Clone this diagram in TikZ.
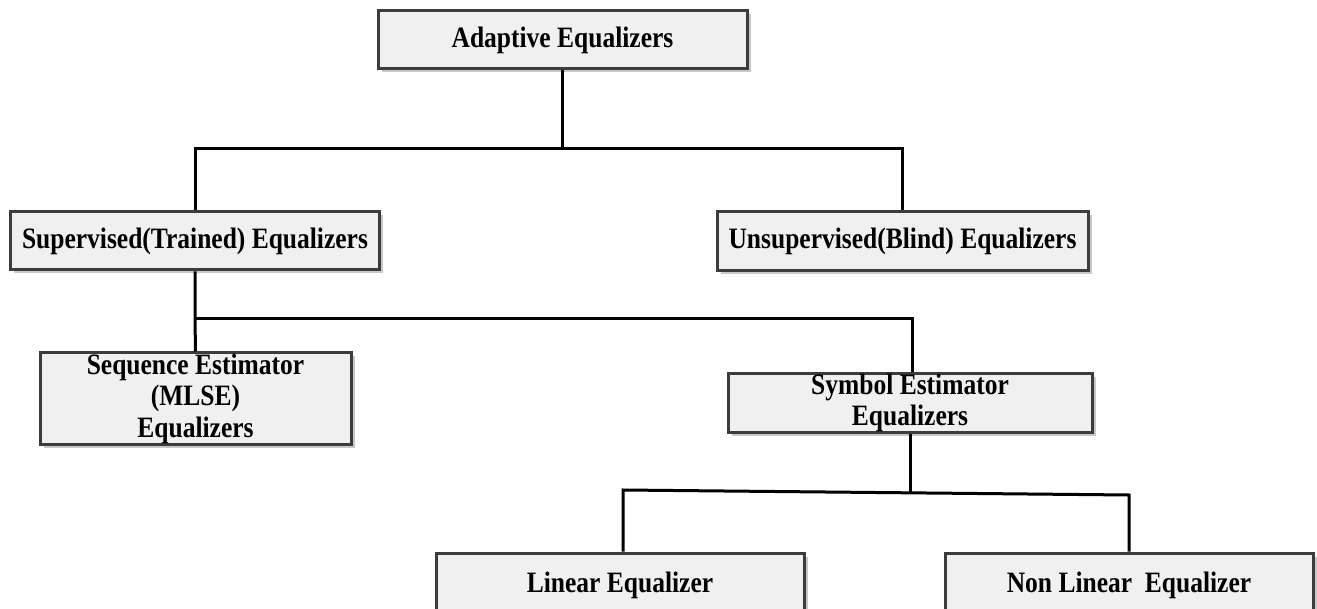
\documentclass[tikz,border=0pt]{standalone}
\usepackage{fontspec}
\usepackage{graphicx}
\setmainfont{Liberation Serif}
\usetikzlibrary{shadows}
\definecolor{boxfill}{HTML}{F0F0F0}
\definecolor{boxline}{HTML}{3C3C3C}
\definecolor{shade}{HTML}{C8C8C8}
% slightly tall lettering for the box labels
\newcommand\tallline[1]{\scalebox{1}[1.16]{#1}}
\begin{document}
\begin{tikzpicture}[x=1pt,y=-1pt,
  eqbox/.style={draw=boxline, line width=3pt, fill=boxfill,
    drop shadow={shadow xshift=3.5pt, shadow yshift=-3.5pt, fill=shade, opacity=1},
    inner sep=0pt, align=center,
    font=\fontsize{25.5}{31.5}\selectfont\bfseries},
  link/.style={draw=black, line width=3pt}]
\useasboundingbox (0,0) rectangle (1317,609);

% boxes
\node[eqbox, minimum width=369pt, minimum height=58pt] (ad)  at (562.5,40) {\tallline{Adaptive Equalizers}};
\node[eqbox, minimum width=369pt, minimum height=58pt] (sup) at (195,241) {\tallline{Supervised(Trained) Equalizers}};
\node[eqbox, minimum width=371pt, minimum height=59pt] (uns) at (902.5,241.5) {\tallline{Unsupervised(Blind) Equalizers}};
\node[eqbox, minimum width=311pt, minimum height=91pt] (seq) at (195.5,398.5) {\tallline{Sequence Estimator}\\\tallline{(MLSE)}\\\tallline{Equalizers}};
\node[eqbox, minimum width=364pt, minimum height=58pt] (sym) at (910,403) {\tallline{Symbol Estimator}\\\tallline{Equalizers}};
\node[eqbox, minimum width=368pt, minimum height=64pt] (lin) at (620,585) {\tallline{Linear Equalizer}};
\node[eqbox, minimum width=368pt, minimum height=64pt] (non) at (1129,585) {\tallline{Non Linear~ Equalizer}};

% junction points of the tree
\coordinate (j1) at (562.5,149);
\coordinate (j2) at (195,319);
\coordinate (j3l) at (623,490);
\coordinate (j3m) at (910,493);
\coordinate (j3r) at (1129,495);

% connectors
\path[link] (ad.south) -- (j1);
\path[link] (sup.north) |- (j1) -| (uns.north);
\path[link] (sup.south) -- (j2) -- (seq.north);
\path[link] (j2) -| ([xshift=2pt]sym.north);
\path[link] (sym.south) -- (j3m);
\path[link] (lin.north -| j3l) -- (j3l) -- (j3r) -- (non.north);
\end{tikzpicture}
\end{document}
